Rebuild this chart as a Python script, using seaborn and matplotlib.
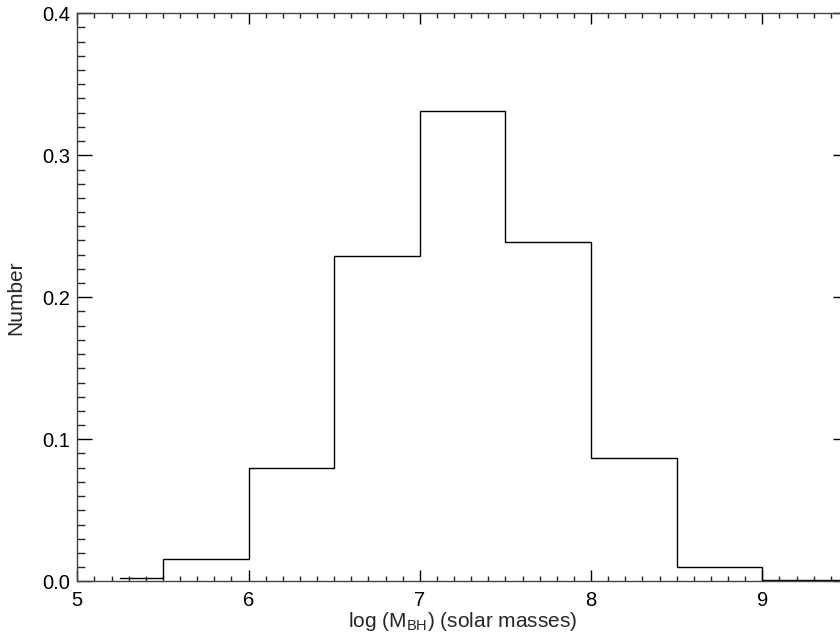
import matplotlib
matplotlib.use("Agg")
import matplotlib.pyplot as plt
import seaborn as sns
import numpy as np
from matplotlib.ticker import MultipleLocator

# Data
bin_edges = [5.25, 5.5, 6.0, 6.5, 7.0, 7.5, 8.0, 8.5, 9.0, 9.5]
fractions = [0.002, 0.016, 0.080, 0.229, 0.331, 0.239, 0.087, 0.010, 0.001]
x_ticks = [5, 6, 7, 8, 9]
y_ticks = [0.0, 0.1, 0.2, 0.3, 0.4]
x_label = r"log (M$_{\mathrm{BH}}$) (solar masses)"
y_label = "Number"

sns.set_style("ticks")
plt.rcParams["font.family"] = ["Liberation Sans", "DejaVu Sans"]
plt.rcParams["mathtext.fontset"] = "custom"
plt.rcParams["mathtext.rm"] = "Liberation Sans"
plt.rcParams["mathtext.it"] = "Liberation Sans"

centers = [(a + b) / 2 for a, b in zip(bin_edges[:-1], bin_edges[1:])]

fig = plt.figure(figsize=(8.4, 6.35), dpi=100)
ax = fig.add_axes([77.3 / 840, 1 - 581.3 / 635, (848 - 77.3) / 840, (581.3 - 13.3) / 635])

sns.histplot(x=centers, weights=fractions, bins=bin_edges, element="step",
             fill=False, color="black", linewidth=1.0, ax=ax)

ax.set_xlim(5, 9.5)
ax.set_ylim(0, 0.4)
ax.set_xticks(x_ticks)
ax.set_xticklabels([str(t) for t in x_ticks])
ax.set_yticks(y_ticks)
ax.set_yticklabels([f"{t:.1f}" for t in y_ticks])
ax.xaxis.set_minor_locator(MultipleLocator(0.1))
ax.yaxis.set_minor_locator(MultipleLocator(0.01))

ax.tick_params(axis="x", which="major", direction="in", length=8, width=1,
               top=True, bottom=True, labelsize=14.5, pad=7, colors="black")
ax.tick_params(axis="x", which="minor", direction="in", length=3.8, width=1,
               top=True, bottom=True)
ax.tick_params(axis="y", which="major", direction="in", length=11, width=1,
               left=True, right=True, labelsize=14.5, pad=5, colors="black")
ax.tick_params(axis="y", which="minor", direction="in", length=5.8, width=1,
               left=True, right=True)

for s in ax.spines.values():
    s.set_visible(True)
    s.set_color("#444444")
    s.set_linewidth(1.0)

ax.set_xlabel(x_label, fontsize=15, labelpad=0)
ax.set_ylabel(y_label, fontsize=15, labelpad=12)

fig.savefig("out.png", dpi=100)
